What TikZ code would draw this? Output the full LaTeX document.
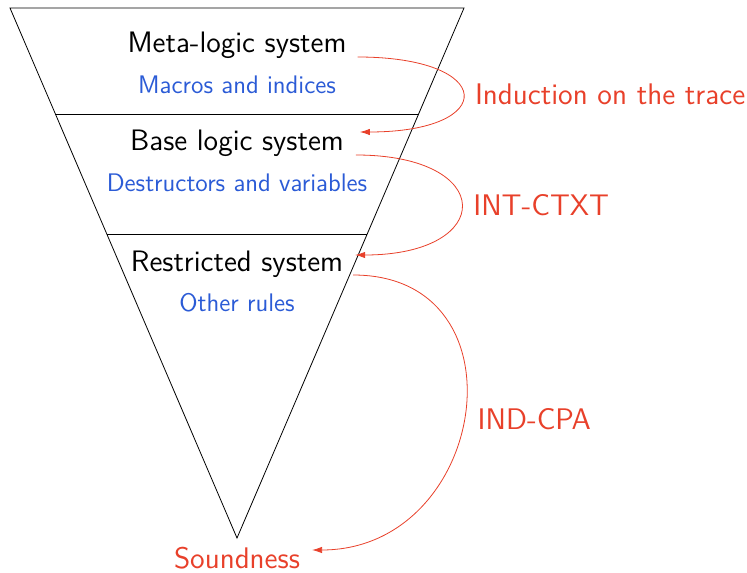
\documentclass[tikz,border=0pt]{standalone}
\usepackage{tikz}
\usetikzlibrary{arrows.meta, calc}

\definecolor{proofred}{RGB}{232,64,42}
\definecolor{ruleblue}{RGB}{43,91,214}

\begin{document}
\begin{tikzpicture}[x=0.5pt, y=-0.5pt, font=\sffamily,
        level/.style={font=\sffamily\fontsize{14.8}{17}\selectfont},
        rules/.style={font=\sffamily\fontsize{12.7}{15}\selectfont, text=ruleblue},
        proof/.style={font=\sffamily\fontsize{14.9}{17}\selectfont, text=proofred},
        step arrow/.style={draw=proofred, -{Latex[length=5pt, width=3.2pt]}}]
        \useasboundingbox (0, 0) rectangle (747, 572);

        % Funnel
        \coordinate (tl) at (10, 8);
        \coordinate (tr) at (464, 8);
        \coordinate (tip) at (237, 538);
        \draw (tl) -- (tr) -- (tip) -- cycle;
        \draw ($(tl)!0.2!(tip)$) -- ($(tr)!0.2!(tip)$);
        \draw ($(tl)!0.428!(tip)$) -- ($(tr)!0.428!(tip)$);

        % Systems
        \node[level] (meta) at (237, 45) {Meta-logic system};
        \node[rules] (macros) at (237, 85) {Macros and indices};
        \node[level] (base) at (237, 143) {Base logic system};
        \node[rules] (destr) at (237, 183) {Destructors and variables};
        \node[level] (restr) at (237, 264) {Restricted system};
        \node[rules] (other) at (237, 303) {Other rules};
        \node[proof] (sound) at (237, 558) {Soundness};

        % Reductions
        \draw[step arrow] ([xshift=2pt, yshift=-6pt]meta.east) .. controls +(139, 0) and +(139, 0) .. ([xshift=4.5pt, yshift=5.5pt]base.east)
            node[proof, pos=0.5, right, xshift=2.5pt] (induction) {Induction on the trace};
        \draw[step arrow] ([xshift=2.5pt, yshift=-6pt]base.east) .. controls +(141, 0) and +(141, 0) .. ([xshift=2.5pt, yshift=4.5pt]restr.east)
            node[proof, pos=0.5, right, xshift=2.5pt] (intctxt) {INT-CTXT};
        \draw[step arrow] ([xshift=1.5pt, yshift=-5.5pt]restr.east) .. controls +(176, 0) and +(176, 0) .. ([xshift=2.5pt, yshift=4pt]sound.east)
            node[proof, pos=0.5, right, xshift=3pt, yshift=-3.5pt] (indcpa) {IND-CPA};
\end{tikzpicture}
\end{document}
